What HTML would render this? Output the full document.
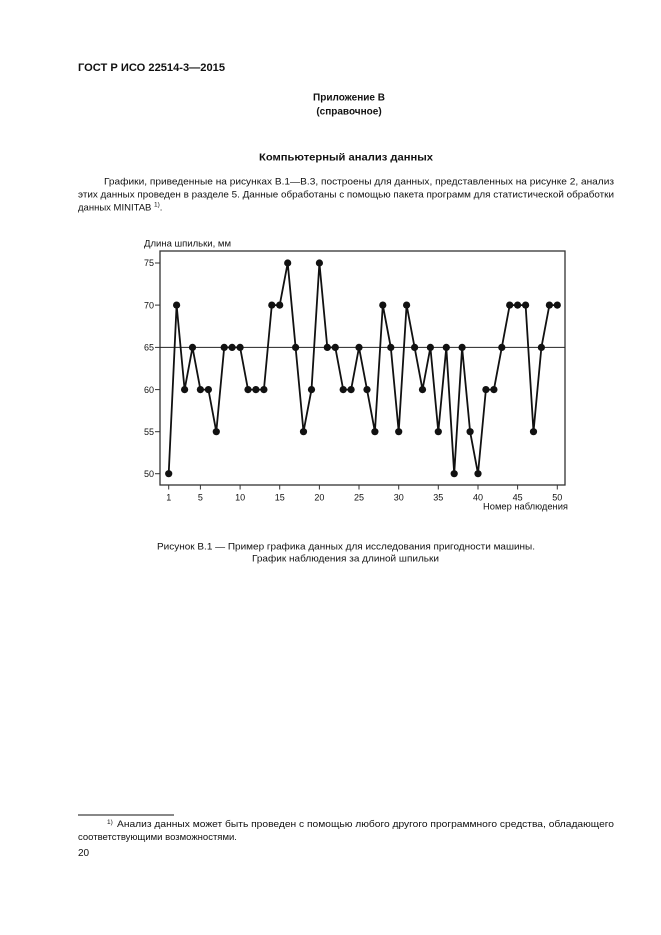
<!DOCTYPE html>
<html>
<head>
<meta charset="utf-8">
<style>
  html, body { margin:0; padding:0; background:#fff; }
  body { width:661px; height:935px; overflow:hidden; }
  svg { display:block; }
  text { font-family: "Liberation Sans", Arial, sans-serif; fill:#111; }
</style>
</head>
<body>
<svg width="661" height="935" viewBox="0 0 661 935" xmlns="http://www.w3.org/2000/svg">
  <!-- Header -->
  <text x="78" y="71" font-size="11" font-weight="bold" textLength="147" lengthAdjust="spacingAndGlyphs">ГОСТ Р ИСО 22514-3—2015</text>

  <text x="349" y="100.5" font-size="10" font-weight="bold" text-anchor="middle">Приложение В</text>
  <text x="349" y="114.5" font-size="10" font-weight="bold" text-anchor="middle">(справочное)</text>

  <text x="346" y="160.5" font-size="10.5" font-weight="bold" text-anchor="middle" textLength="174" lengthAdjust="spacingAndGlyphs">Компьютерный анализ данных</text>

  <!-- Paragraph -->
  <text x="104" y="184.5" font-size="9.5" textLength="510" lengthAdjust="spacingAndGlyphs">Графики, приведенные на рисунках В.1—В.3, построены для данных, представленных на рисунке 2, анализ</text>
  <text x="78" y="197.5" font-size="9.5" textLength="536" lengthAdjust="spacingAndGlyphs">этих данных проведен в разделе 5. Данные обработаны с помощью пакета программ для статистической обработки</text>
  <text x="78" y="210.5" font-size="9.5">данных MINITAB <tspan font-size="6.5" dy="-4">1)</tspan><tspan dy="4">.</tspan></text>

  <!-- Chart -->
  <text x="144" y="246.5" font-size="9" textLength="87" lengthAdjust="spacingAndGlyphs">Длина шпильки, мм</text>
  <rect x="160" y="251" width="405" height="234" fill="none" stroke="#333" stroke-width="1.3"/>
  <line x1="160" y1="347.4" x2="565" y2="347.4" stroke="#222" stroke-width="1"/>

  <!-- Y ticks -->
  <g stroke="#333" stroke-width="1">
    <line x1="155" y1="263" x2="160" y2="263"/>
    <line x1="155" y1="305.1" x2="160" y2="305.1"/>
    <line x1="155" y1="347.4" x2="160" y2="347.4"/>
    <line x1="155" y1="389.6" x2="160" y2="389.6"/>
    <line x1="155" y1="431.7" x2="160" y2="431.7"/>
    <line x1="155" y1="473.7" x2="160" y2="473.7"/>
  </g>
  <g font-size="9" text-anchor="end">
    <text x="154" y="266.2">75</text>
    <text x="154" y="308.3">70</text>
    <text x="154" y="350.6">65</text>
    <text x="154" y="392.8">60</text>
    <text x="154" y="434.9">55</text>
    <text x="154" y="476.9">50</text>
  </g>

  <!-- X ticks -->
  <g stroke="#333" stroke-width="1">
    <line x1="168.7" y1="485" x2="168.7" y2="489.5"/>
    <line x1="200.4" y1="485" x2="200.4" y2="489.5"/>
    <line x1="240.1" y1="485" x2="240.1" y2="489.5"/>
    <line x1="279.7" y1="485" x2="279.7" y2="489.5"/>
    <line x1="319.4" y1="485" x2="319.4" y2="489.5"/>
    <line x1="359.0" y1="485" x2="359.0" y2="489.5"/>
    <line x1="398.7" y1="485" x2="398.7" y2="489.5"/>
    <line x1="438.3" y1="485" x2="438.3" y2="489.5"/>
    <line x1="478.0" y1="485" x2="478.0" y2="489.5"/>
    <line x1="517.6" y1="485" x2="517.6" y2="489.5"/>
    <line x1="557.3" y1="485" x2="557.3" y2="489.5"/>
  </g>
  <g font-size="9" text-anchor="middle">
    <text x="168.7" y="500.5">1</text>
    <text x="200.4" y="500.5">5</text>
    <text x="240.1" y="500.5">10</text>
    <text x="279.7" y="500.5">15</text>
    <text x="319.4" y="500.5">20</text>
    <text x="359.0" y="500.5">25</text>
    <text x="398.7" y="500.5">30</text>
    <text x="438.3" y="500.5">35</text>
    <text x="478.0" y="500.5">40</text>
    <text x="517.6" y="500.5">45</text>
    <text x="557.3" y="500.5">50</text>
  </g>
  <text x="568" y="509.5" font-size="9" text-anchor="end" textLength="85" lengthAdjust="spacingAndGlyphs">Номер наблюдения</text>

  <!-- Series -->
  <polyline fill="none" stroke="#111" stroke-width="1.8" stroke-linejoin="miter" points="
168.7,473.7 176.6,305.1 184.6,389.6 192.5,347.4 200.4,389.6 208.4,389.6 216.3,431.7 224.2,347.4 232.1,347.4 240.1,347.4
248.0,389.6 255.9,389.6 263.9,389.6 271.8,305.1 279.7,305.1 287.7,263 295.6,347.4 303.5,431.7 311.5,389.6 319.4,263
327.3,347.4 335.3,347.4 343.2,389.6 351.1,389.6 359.0,347.4 367.0,389.6 374.9,431.7 382.8,305.1 390.8,347.4 398.7,431.7
406.6,305.1 414.6,347.4 422.5,389.6 430.4,347.4 438.3,431.7 446.3,347.4 454.2,473.7 462.1,347.4 470.1,431.7 478.0,473.7
485.9,389.6 493.9,389.6 501.8,347.4 509.7,305.1 517.6,305.1 525.6,305.1 533.5,431.7 541.4,347.4 549.4,305.1 557.3,305.1"/>
  <g fill="#111">
    <circle cx="168.7" cy="473.7" r="3.6"/><circle cx="176.6" cy="305.1" r="3.6"/><circle cx="184.6" cy="389.6" r="3.6"/><circle cx="192.5" cy="347.4" r="3.6"/><circle cx="200.4" cy="389.6" r="3.6"/>
    <circle cx="208.4" cy="389.6" r="3.6"/><circle cx="216.3" cy="431.7" r="3.6"/><circle cx="224.2" cy="347.4" r="3.6"/><circle cx="232.1" cy="347.4" r="3.6"/><circle cx="240.1" cy="347.4" r="3.6"/>
    <circle cx="248.0" cy="389.6" r="3.6"/><circle cx="255.9" cy="389.6" r="3.6"/><circle cx="263.9" cy="389.6" r="3.6"/><circle cx="271.8" cy="305.1" r="3.6"/><circle cx="279.7" cy="305.1" r="3.6"/>
    <circle cx="287.7" cy="263" r="3.6"/><circle cx="295.6" cy="347.4" r="3.6"/><circle cx="303.5" cy="431.7" r="3.6"/><circle cx="311.5" cy="389.6" r="3.6"/><circle cx="319.4" cy="263" r="3.6"/>
    <circle cx="327.3" cy="347.4" r="3.6"/><circle cx="335.3" cy="347.4" r="3.6"/><circle cx="343.2" cy="389.6" r="3.6"/><circle cx="351.1" cy="389.6" r="3.6"/><circle cx="359.0" cy="347.4" r="3.6"/>
    <circle cx="367.0" cy="389.6" r="3.6"/><circle cx="374.9" cy="431.7" r="3.6"/><circle cx="382.8" cy="305.1" r="3.6"/><circle cx="390.8" cy="347.4" r="3.6"/><circle cx="398.7" cy="431.7" r="3.6"/>
    <circle cx="406.6" cy="305.1" r="3.6"/><circle cx="414.6" cy="347.4" r="3.6"/><circle cx="422.5" cy="389.6" r="3.6"/><circle cx="430.4" cy="347.4" r="3.6"/><circle cx="438.3" cy="431.7" r="3.6"/>
    <circle cx="446.3" cy="347.4" r="3.6"/><circle cx="454.2" cy="473.7" r="3.6"/><circle cx="462.1" cy="347.4" r="3.6"/><circle cx="470.1" cy="431.7" r="3.6"/><circle cx="478.0" cy="473.7" r="3.6"/>
    <circle cx="485.9" cy="389.6" r="3.6"/><circle cx="493.9" cy="389.6" r="3.6"/><circle cx="501.8" cy="347.4" r="3.6"/><circle cx="509.7" cy="305.1" r="3.6"/><circle cx="517.6" cy="305.1" r="3.6"/>
    <circle cx="525.6" cy="305.1" r="3.6"/><circle cx="533.5" cy="431.7" r="3.6"/><circle cx="541.4" cy="347.4" r="3.6"/><circle cx="549.4" cy="305.1" r="3.6"/><circle cx="557.3" cy="305.1" r="3.6"/>
  </g>

  <!-- Caption -->
  <text x="346" y="549.5" font-size="9.5" text-anchor="middle" textLength="378" lengthAdjust="spacingAndGlyphs">Рисунок В.1 — Пример графика данных для исследования пригодности машины.</text>
  <text x="345.5" y="561.5" font-size="9.5" text-anchor="middle" textLength="187" lengthAdjust="spacingAndGlyphs">График наблюдения за длиной шпильки</text>

  <!-- Footnote -->
  <line x1="78" y1="815" x2="174" y2="815" stroke="#111" stroke-width="0.9"/>
  <text x="107" y="824" font-size="6.5">1)</text>
  <text x="117" y="827" font-size="9.5" textLength="497" lengthAdjust="spacingAndGlyphs">Анализ данных может быть проведен с помощью любого другого программного средства, обладающего</text>
  <text x="78" y="840" font-size="9.5">соответствующими возможностями.</text>
  <text x="78" y="856" font-size="10">20</text>
</svg>
</body>
</html>
